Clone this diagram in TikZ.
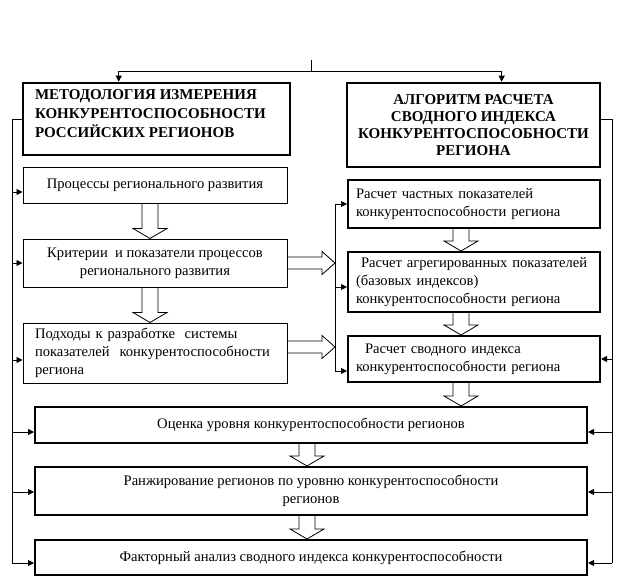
\documentclass[tikz,border=0pt]{standalone}
\usepackage{fontspec}
\setmainfont{Liberation Serif}
\usetikzlibrary{arrows.meta,calc}
\tikzset{
  box/.style={draw, rectangle, inner sep=0pt, line width=1pt, font=\fontsize{14.6}{18}\selectfont},
  boxb/.style={box, line width=2pt},
  headbox/.style={box, line width=2.6pt, font=\bfseries\fontsize{15}{17}\selectfont},
  tip/.style={-{Triangle[length=6pt,width=6pt]}, line width=0.9pt},
  bus/.style={line width=0.9pt},
  fat/.style={draw, line width=0.8pt},
}
% hollow block arrows: from, to
\newcommand{\fatdown}[2]{%
  \draw[fat] let \p1=(#1), \p2=(#2) in
    (\x1-8pt,\y1) -- (\x1-8pt,\y2+10pt) -- (\x1-17pt,\y2+10pt) -- (\x1,\y2)
    -- (\x1+17pt,\y2+10pt) -- (\x1+8pt,\y2+10pt) -- (\x1+8pt,\y1);}
\newcommand{\fatright}[2]{%
  \draw[fat] let \p1=(#1), \p2=(#2) in
    (\x1,\y1+6pt) -- (\x2-13pt,\y1+6pt) -- (\x2-13pt,\y1+11.5pt) -- (\x2,\y1)
    -- (\x2-13pt,\y1-11.5pt) -- (\x2-13pt,\y1-6pt) -- (\x1,\y1-6pt);}

\begin{document}
\begin{tikzpicture}[x=1pt, y=-1pt]
  \useasboundingbox (0,0) rectangle (624,579);

  % headers
  \node[headbox, minimum width=267pt, minimum height=72pt] (metod) at (156.5,119)
    {\parbox[c][58pt][t]{243pt}{\baselineskip=19pt МЕТОДОЛОГИЯ ИЗМЕРЕНИЯ\\
      КОНКУРЕНТОСПОСОБНОСТИ\\ РОССИЙСКИХ РЕГИОНОВ}};
  \node[headbox, minimum width=253pt, minimum height=84pt, align=center] (algo) at (473.5,125)
    {АЛГОРИТМ РАСЧЕТА\\ СВОДНОГО ИНДЕКСА\\ КОНКУРЕНТОСПОСОБНОСТИ\\ РЕГИОНА};

  % left column
  \node[box, minimum width=264pt, minimum height=36pt] (proc) at (155,185)
    {Процессы регионального развития};
  \node[box, minimum width=264pt, minimum height=48pt, align=center] (crit) at (155,263)
    {Критерии\ \ и показатели процессов\\ регионального развития};
  \node[box, minimum width=264pt, minimum height=60pt, text width=240pt, align=left] (podh) at (155,353)
    {\mbox{Подходы к разработке\ \ системы}\\ \mbox{показателей\ \ конкурентоспособности}\\ региона};

  % right column
  \node[boxb, minimum width=252pt, minimum height=48pt, text width=236pt, align=left] (chast) at (474,204)
    {\mbox{Расчет частных показателей}\\ \mbox{конкурентоспособности региона}};
  \node[boxb, minimum width=252pt, minimum height=60pt, text width=236pt, align=left] (agreg) at (474,282)
    {\mbox{\hspace{5pt}Расчет агрегированных показателей}\\ (базовых индексов)\\ \mbox{конкурентоспособности региона}};
  \node[boxb, minimum width=252pt, minimum height=46pt, text width=236pt, align=left] (svod) at (474,359)
    {\mbox{\hspace{9pt}Расчет сводного индекса}\\ \mbox{конкурентоспособности региона}};

  % bottom row
  \node[boxb, minimum width=552pt, minimum height=36pt] (ocen) at (311,425)
    {Оценка уровня конкурентоспособности регионов};
  \node[boxb, minimum width=552pt, minimum height=48pt, align=center] (ranzh) at (311,491)
    {Ранжирование регионов по уровню конкурентоспособности\\ регионов};
  \node[boxb, minimum width=552pt, minimum height=35pt] (faktor) at (311,557.5)
    {Факторный анализ сводного индекса конкурентоспособности};

  % top split
  \coordinate (top) at (311,60);
  \coordinate (split) at (311,71);
  \path (metod.north west) ++(97,0) coordinate (min);
  \path (algo.north west) ++(156,0) coordinate (ain);
  \draw[bus] (top) -- (split);
  \draw[tip] (split) -| (min);
  \draw[tip] (split) -| (ain);

  % left bus
  \coordinate (lt) at (12,119);
  \coordinate (lb) at (12,563);
  \draw[bus] (metod.west) -- (lt) -- (lb);
  \foreach \n/\s in {proc/7, crit/0, podh/7, ocen/7, ranzh/1, faktor/5.5}{
    \path (\n.west) ++(0,\s) coordinate (tmp);
    \draw[tip] (tmp -| lt) -- (tmp);
  }

  % right bus
  \path (algo.east) ++(0,-6) coordinate (aout);
  \coordinate (rt) at (612,119);
  \coordinate (rb) at (612,563);
  \draw[bus] (aout) -- (rt) -- (rb);
  \foreach \n/\s in {svod/0, ocen/7, ranzh/1, faktor/5.5}{
    \path (\n.east) ++(0,\s) coordinate (tmp);
    \draw[tip] (tmp -| rt) -- (tmp);
  }

  % middle bus
  \coordinate (mtop) at (335,204);
  \coordinate (mbot) at (335,371);
  \path (agreg.west) ++(0,5) coordinate (agin);
  \path (svod.west) ++(0,12) coordinate (svin);
  \draw[bus] (mtop) -- (mbot);
  \draw[tip] (mtop) -- (chast.west);
  \draw[tip] (agin -| mtop) -- (agin);
  \draw[tip] (mbot) -- (svin);

  % block arrows
  \fatdown{[xshift=-5pt]proc.south}{crit.north}
  \fatdown{[xshift=-5pt]crit.south}{podh.north}
  \fatdown{[xshift=-13pt]chast.south}{agreg.north}
  \fatdown{[xshift=-13pt]agreg.south}{svod.north}
  \fatdown{[xshift=-13pt]svod.south}{ocen.north}
  \fatdown{[xshift=-4pt]ocen.south}{ranzh.north}
  \fatdown{[xshift=-4pt]ranzh.south}{faktor.north}
  \fatright{crit.east}{mtop}
  \fatright{[yshift=6pt]podh.east}{mtop}
\end{tikzpicture}
\end{document}
